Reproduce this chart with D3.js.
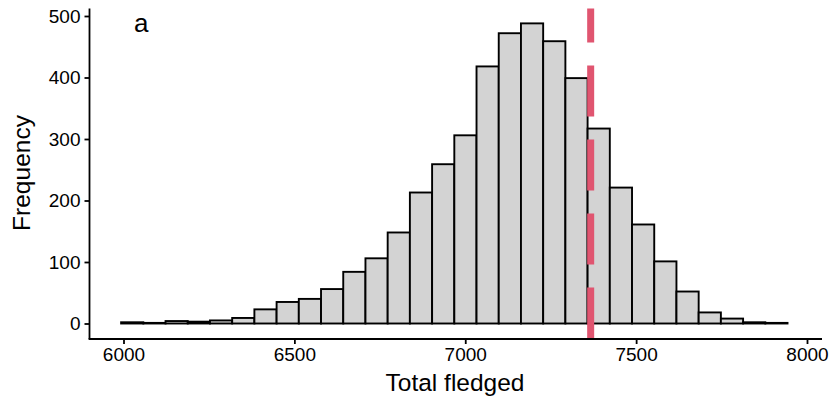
<!DOCTYPE html>
<html>
<head>
<meta charset="utf-8">
<script src="https://cdn.jsdelivr.net/npm/d3@7"></script>
<style>
  html, body { margin: 0; padding: 0; background: #fff; }
  svg { display: block; font-family: "Liberation Sans", Arial, Helvetica, sans-serif; }
</style>
</head>
<body>
<svg id="chart" width="833" height="402"></svg>
<script>
// ---- data ----
const binEdges = [5993, 6058, 6123, 6188, 6253, 6318, 6383, 6448, 6513, 6578, 6643,
                  6708, 6773, 6838, 6903, 6968, 7033, 7098, 7163, 7228, 7293,
                  7358, 7423, 7488, 7553, 7618, 7683, 7748, 7813, 7878, 7943];
const counts = [2, 1, 4, 3, 5, 9, 23, 35, 40, 56, 84, 106, 148, 213, 259, 306,
                418, 472, 488, 459, 399, 317, 221, 161, 101, 52, 18, 8, 2, 1];
const observedValue = 7367;
const xTicks = [6000, 6500, 7000, 7500, 8000];
const yTicks = [0, 100, 200, 300, 400, 500];
const xTitle = "Total fledged";
const yTitle = "Frequency";
const panelTag = "a";

// ---- layout ----
const svg = d3.select("#chart");
const panel = { left: 89.5, right: 822, top: 8.5, bottom: 339 };
const x = d3.scaleLinear().domain([6000, 8000]).range([123.5, 807]);
const y = d3.scaleLinear().domain([0, 500]).range([323.5, 16]);

const bins = counts.map((c, i) => ({ x0: binEdges[i], x1: binEdges[i + 1], n: c }));

// bars
svg.append("g").selectAll("rect").data(bins).join("rect")
  .attr("x", d => x(d.x0))
  .attr("width", d => x(d.x1) - x(d.x0))
  .attr("y", d => y(d.n))
  .attr("height", d => y(0) - y(d.n))
  .attr("fill", "#d3d3d3")
  .attr("stroke", "#000")
  .attr("stroke-width", 1.9);

// dashed observed line (drawn from bottom upward)
svg.append("line")
  .attr("x1", x(observedValue)).attr("x2", x(observedValue))
  .attr("y1", panel.bottom - 0.5).attr("y2", panel.top)
  .attr("stroke", "#e05570")
  .attr("stroke-width", 7)
  .attr("stroke-dasharray", "51 23");

// x axis
const xAxis = svg.append("g").attr("transform", `translate(0,${panel.bottom})`)
  .call(d3.axisBottom(x).tickValues(xTicks).tickSize(5).tickPadding(4).tickFormat(d3.format("d")));
xAxis.select(".domain").attr("d", `M${panel.left - 0.9},0H${panel.right}`).attr("stroke-width", 1.8);
xAxis.selectAll(".tick line").attr("stroke-width", 1.8);
xAxis.selectAll(".tick text").attr("font-size", 19).attr("fill", "#000")
  .attr("font-family", "Liberation Sans, Arial, sans-serif");

// y axis
const yAxis = svg.append("g").attr("transform", `translate(${panel.left},0)`)
  .call(d3.axisLeft(y).tickValues(yTicks).tickSize(5).tickPadding(4).tickFormat(d3.format("d")));
yAxis.select(".domain").attr("d", `M0,${panel.top}V${panel.bottom}`).attr("stroke-width", 1.8);
yAxis.selectAll(".tick line").attr("stroke-width", 1.8);
yAxis.selectAll(".tick text").attr("font-size", 19).attr("fill", "#000")
  .attr("font-family", "Liberation Sans, Arial, sans-serif");

// axis titles
svg.append("text")
  .attr("x", 455).attr("y", 391)
  .attr("text-anchor", "middle")
  .attr("font-size", 24.5)
  .attr("fill", "#000")
  .text(xTitle);

svg.append("text")
  .attr("transform", "translate(30,173) rotate(-90)")
  .attr("text-anchor", "middle")
  .attr("font-size", 24.5)
  .attr("fill", "#000")
  .text(yTitle);

// panel tag
svg.append("text")
  .attr("x", 134).attr("y", 31.5)
  .attr("font-size", 26)
  .attr("fill", "#000")
  .text(panelTag);
</script>
</body>
</html>
